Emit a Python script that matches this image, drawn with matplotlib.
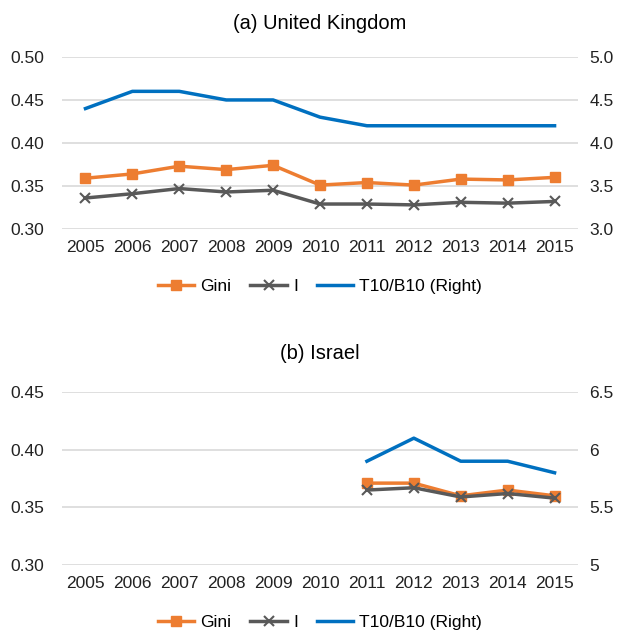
import matplotlib
matplotlib.use("Agg")
import matplotlib.pyplot as plt
import numpy as np

plt.rcParams['font.family'] = ['Liberation Sans', 'DejaVu Sans']

years = ['2005', '2006', '2007', '2008', '2009', '2010', '2011', '2012', '2013', '2014', '2015']

# (a) United Kingdom
uk_gini = [0.359, 0.364, 0.373, 0.369, 0.374, 0.351, 0.354, 0.351, 0.358, 0.357, 0.360]
uk_i = [0.336, 0.341, 0.347, 0.343, 0.345, 0.329, 0.329, 0.328, 0.331, 0.330, 0.332]
uk_t10b10 = [4.4, 4.6, 4.6, 4.5, 4.5, 4.3, 4.2, 4.2, 4.2, 4.2, 4.2]

# (b) Israel (data from 2011 only)
il_gini = [np.nan] * 6 + [0.371, 0.371, 0.360, 0.365, 0.360]
il_i = [np.nan] * 6 + [0.365, 0.367, 0.359, 0.362, 0.358]
il_t10b10 = [np.nan] * 6 + [5.9, 6.1, 5.9, 5.9, 5.8]

c_gini = '#ED7D31'
c_i = '#595959'
c_t = '#0070C0'
grid_c = '#D9D9D9'
fs = 12.5


def panel(ax, title, tpad, gini, ineq, t10, ylim, yticks, ylabels, rlim, rticks, rlabels):
    x = np.arange(len(years))
    ax.set_xlim(-0.5, len(years) - 0.5)
    ax.set_ylim(*ylim)
    ax.set_yticks(yticks)
    ax.set_yticklabels(ylabels)
    ax.set_xticks(x)
    ax.set_xticklabels(years)
    for v in yticks:
        ax.axhline(v, color=grid_c, lw=1.2, zorder=0)
    for s in ax.spines.values():
        s.set_visible(False)
    ax.tick_params(axis='x', length=0, labelsize=fs, pad=8, colors='#222222')
    ax.tick_params(axis='y', length=0, labelsize=fs, pad=13, colors='#222222')

    ax2 = ax.twinx()
    ax2.set_ylim(*rlim)
    ax2.set_yticks(rticks)
    ax2.set_yticklabels(rlabels)
    for s in ax2.spines.values():
        s.set_visible(False)
    ax2.tick_params(length=0, labelsize=fs, pad=8, colors='#222222')

    l1, = ax.plot(x, gini, color=c_gini, lw=2.5, marker='s', ms=7, label='Gini', zorder=3)
    l2, = ax.plot(x, ineq, color=c_i, lw=2.5, marker='x', ms=7, mew=1.5, label='I', zorder=3)
    l3, = ax2.plot(x, t10, color=c_t, lw=2.5, label='T10/B10 (Right)')
    ax.set_title(title, fontsize=14.5, pad=tpad)
    ax.legend(handles=[l1, l2, l3], loc='upper center', bbox_to_anchor=(0.5, -0.2),
              ncol=3, frameon=False, fontsize=12.5, handlelength=2.1,
              columnspacing=1.1, handletextpad=0.35)


fig = plt.figure(figsize=(6.19, 6.32), dpi=100)
ax_top = fig.add_axes([0.1002, 0.6377, 0.8336, 0.2722])
ax_bot = fig.add_axes([0.1002, 0.106, 0.8336, 0.2737])

panel(ax_top, '(a) United Kingdom', 20, uk_gini, uk_i, uk_t10b10,
      (0.30, 0.50), [0.30, 0.35, 0.40, 0.45, 0.50], ['0.30', '0.35', '0.40', '0.45', '0.50'],
      (3.0, 5.0), [3.0, 3.5, 4.0, 4.5, 5.0], ['3.0', '3.5', '4.0', '4.5', '5.0'])
panel(ax_bot, '(b) Israel', 24, il_gini, il_i, il_t10b10,
      (0.30, 0.45), [0.30, 0.35, 0.40, 0.45], ['0.30', '0.35', '0.40', '0.45'],
      (5.0, 6.5), [5.0, 5.5, 6.0, 6.5], ['5', '5.5', '6', '6.5'])

fig.savefig('out.png', dpi=100)
